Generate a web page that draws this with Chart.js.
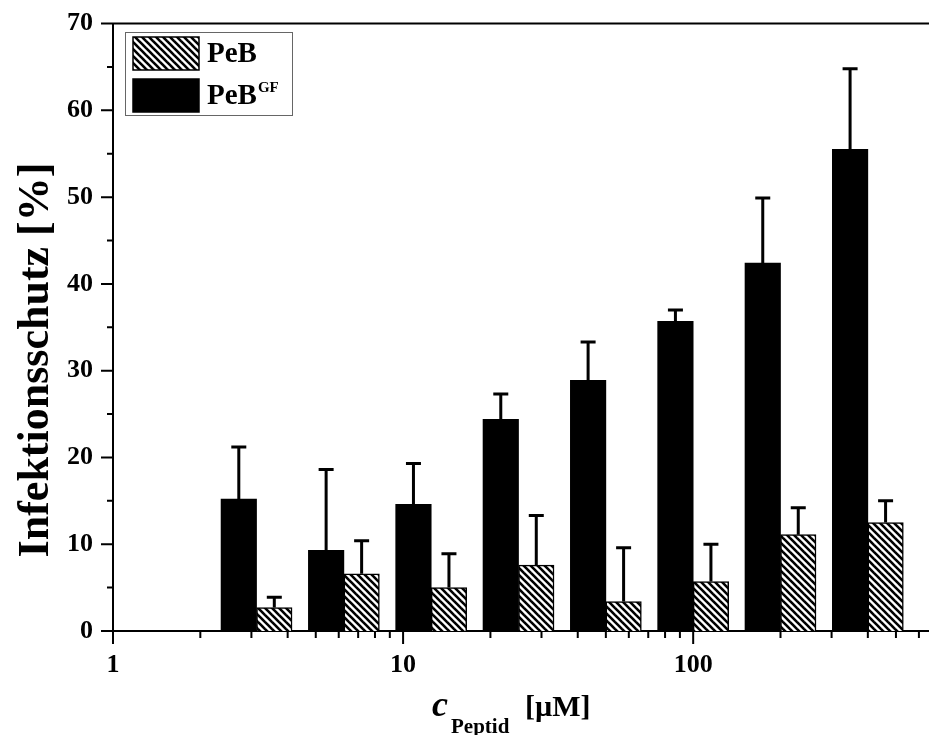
<!DOCTYPE html>
<html>
<head>
<meta charset="utf-8">
<script src="https://cdn.jsdelivr.net/npm/chart.js@4"></script>
<style>
  html, body { margin: 0; padding: 0; background: #fff; }
  #wrap { width: 929px; height: 735px; position: relative; }
</style>
</head>
<body>
<div id="wrap"><canvas id="chart_area"></canvas></div>
<script>
// peptide concentrations (µM), dilution series
const concentrations = [3.125, 6.25, 12.5, 25, 50, 100, 200, 400];
// infection protection [%] and upper error
const pebGF = [15.2, 9.3, 14.6, 24.4, 28.9, 35.7, 42.4, 55.5];
const pebGFErr = [6.0, 9.3, 4.7, 2.9, 4.4, 1.3, 7.5, 9.3];
const peb = [2.7, 6.6, 5.0, 7.6, 3.4, 5.7, 11.1, 12.5];
const pebErr = [1.2, 3.8, 3.9, 5.7, 6.2, 4.3, 3.1, 2.5];
// axis ticks
const xTickValues = [1, 2, 3, 4, 5, 6, 7, 8, 9, 10, 20, 30, 40, 50, 60, 70, 80, 90, 100, 200, 300, 400, 500, 600];
const xTickLabels = [1, 10, 100];
const yTickLabels = [0, 10, 20, 30, 40, 50, 60, 70];

const serif = "'Liberation Serif', 'Times New Roman', serif";
let ctx = document.getElementById('chart_area').getContext('2d');

function makeHatch() {
  const c = document.createElement('canvas');
  c.width = 7; c.height = 7;
  const g = c.getContext('2d');
  g.fillStyle = '#fff';
  g.fillRect(0, 0, 7, 7);
  g.strokeStyle = '#000';
  g.lineWidth = 2.6;
  for (const o of [-7, 0, 7]) {
    g.beginPath();
    g.moveTo(o - 1, -1);
    g.lineTo(o + 8, 8);
    g.stroke();
  }
  return g.createPattern(c, 'repeat');
}
const hatch = makeHatch();

const errorBars = {
  id: 'errorBars',
  afterDatasetsDraw(chart) {
    const c = chart.ctx;
    const y = chart.scales.y;
    chart.data.datasets.forEach((ds, i) => {
      const meta = chart.getDatasetMeta(i);
      meta.data.forEach((bar, j) => {
        const top = y.getPixelForValue(ds.data[j].y + ds.errors[j]);
        c.save();
        c.strokeStyle = '#000';
        c.lineWidth = 3;
        c.beginPath();
        c.moveTo(bar.x, bar.y);
        c.lineTo(bar.x, top);
        c.moveTo(bar.x - 7.5, top);
        c.lineTo(bar.x + 7.5, top);
        c.stroke();
        c.restore();
      });
    });
  }
};

const frame = {
  id: 'frame',
  afterDraw(chart) {
    const c = chart.ctx;
    const a = chart.chartArea;
    const x = chart.scales.x, y = chart.scales.y;
    c.save();
    c.strokeStyle = '#000';
    c.lineWidth = 2;
    c.beginPath();
    c.moveTo(a.left, a.top);
    c.lineTo(a.right, a.top);
    x.ticks.forEach(t => {
      const px = x.getPixelForValue(t.value);
      const len = xTickLabels.includes(t.value) ? 13 : 7;
      c.moveTo(px, a.bottom);
      c.lineTo(px, a.bottom + len);
    });
    y.ticks.forEach(t => {
      const py = y.getPixelForValue(t.value);
      const len = yTickLabels.includes(t.value) ? 12 : 6;
      c.moveTo(a.left, py);
      c.lineTo(a.left - len, py);
    });
    c.stroke();

    // axis titles
    c.fillStyle = '#000';
    c.textBaseline = 'alphabetic';
    c.save();
    c.translate(48, 360);
    c.rotate(-Math.PI / 2);
    c.textAlign = 'center';
    c.font = 'bold 44px ' + serif;
    c.fillText('Infektionsschutz [%]', 0, 0);
    c.restore();
    c.textAlign = 'left';
    c.font = 'italic bold 36px ' + serif;
    c.fillText('c', 432, 716);
    c.font = 'bold 21px ' + serif;
    c.fillText('Peptid', 451, 733);
    c.font = 'bold 30px ' + serif;
    c.fillText('[µM]', 525, 716);

    // legend, hatched series first
    c.lineWidth = 1;
    c.strokeStyle = '#666';
    c.strokeRect(125.5, 32.5, 167, 83);
    [1, 0].forEach((di, k) => {
      const ds = chart.data.datasets[di];
      const top = 37 + k * 42;
      c.fillStyle = ds.backgroundColor;
      c.fillRect(133, top, 66, 33);
      c.strokeStyle = '#000';
      c.lineWidth = 1.5;
      c.strokeRect(133, top, 66, 33);
      c.fillStyle = '#000';
      c.font = 'bold 29px ' + serif;
      c.fillText(ds.label, 207, top + 25);
      if (ds.sup) {
        const w = c.measureText(ds.label).width;
        c.font = 'bold 15px ' + serif;
        c.fillText(ds.sup, 207 + w + 1, top + 13);
      }
    });
    c.restore();
  }
};

const tickFont = { family: serif, size: 26, weight: 'bold' };

let chart = new Chart(ctx, {
  type: 'bar',
  data: {
    datasets: [{
      label: 'PeB',
      sup: 'GF',
      data: concentrations.map((v, i) => ({ x: v, y: pebGF[i] })),
      errors: pebGFErr,
      backgroundColor: '#000',
      borderColor: '#000',
      borderWidth: 0,
      barThickness: 35.5,
    }, {
      label: 'PeB',
      sup: '',
      data: concentrations.map((v, i) => ({ x: v, y: peb[i] })),
      errors: pebErr,
      backgroundColor: hatch,
      borderColor: '#000',
      borderWidth: 1.5,
      barThickness: 35.5,
    }]
  },
  options: {
    responsive: true,
    maintainAspectRatio: false,
    animation: false,
    layout: { padding: { top: 20, right: 0, bottom: 0, left: 0 } },
    plugins: { legend: { display: false }, tooltip: { enabled: false } },
    scales: {
      x: {
        type: 'logarithmic',
        min: 1,
        max: 650,
        offset: false,
        grid: { display: false, offset: false, drawTicks: true, tickLength: 13 },
        border: { display: true, width: 2, color: '#000' },
        ticks: {
          autoSkip: false, maxRotation: 0, minRotation: 0, padding: 6,
          color: '#000', font: tickFont,
          callback: v => xTickLabels.includes(v) ? String(v) : ''
        },
        afterBuildTicks: s => { s.ticks = xTickValues.map(v => ({ value: v })); },
        afterFit: s => { s.height = 104; }
      },
      y: {
        min: 0,
        max: 70,
        grid: { display: false, drawTicks: true, tickLength: 12 },
        border: { display: true, width: 2, color: '#000' },
        ticks: {
          stepSize: 5, autoSkip: false, padding: 8,
          color: '#000', font: tickFont,
          callback: v => v % 10 === 0 ? String(v) : ''
        },
        afterFit: s => { s.width = 113; }
      }
    }
  },
  plugins: [errorBars, frame]
});
</script>
</body>
</html>
